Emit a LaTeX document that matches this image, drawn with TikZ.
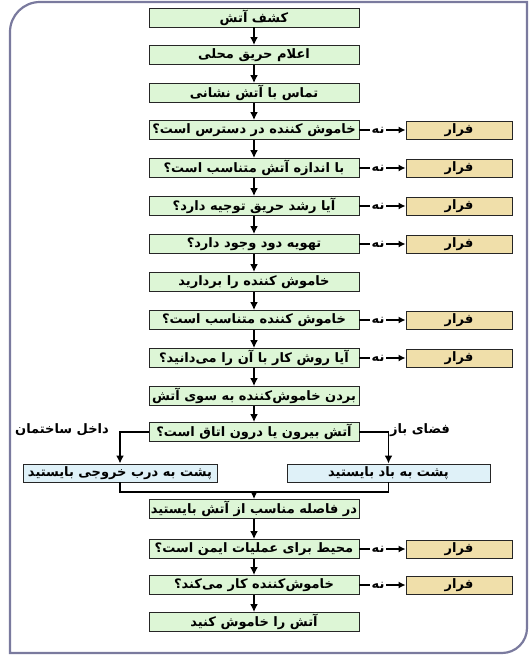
\documentclass[tikz,border=0pt]{standalone}
\usepackage{xcolor}
\usepackage{fontspec}
\usepackage{tikz}
\usetikzlibrary{arrows}
\usetikzlibrary{arrows.meta}
\usetikzlibrary{positioning}
\TeXXeTstate=1
\newfontfamily\arabicfont[Script=Arabic]{DejaVu Sans}
\newcommand{\fatext}[1]{\beginR #1\endR}
\newcommand{\boxfont}{\arabicfont\bfseries\fontsize{13}{14}\selectfont}
\definecolor{boxgreen}{HTML}{DDF6D6}
\definecolor{boxblue}{HTML}{DFF1F8}
\definecolor{boxtan}{HTML}{F0DFAA}
\definecolor{framegray}{HTML}{7A7A9E}
\tikzset{>=latex}
\tikzstyle{mainbox} = [draw=black!85, fill=boxgreen, line width=0.9pt, minimum width=210pt, minimum height=19pt, inner sep=0pt, font=\boxfont]
\tikzstyle{sidebox} = [mainbox, fill=boxblue, minimum height=18pt]
\tikzstyle{escbox} = [mainbox, fill=boxtan, minimum width=106pt, minimum height=18pt]
\tikzstyle{nolbl} = [draw=none, inner sep=1.5pt, font=\boxfont]
\tikzstyle{flow} = [-{Latex[length=8pt, width=8pt]}, line width=1.7pt]
\tikzstyle{noline} = [line width=1.3pt]
\tikzstyle{notip} = [noline, -{Latex[length=7pt, width=7pt]}]

\begin{document}
\begin{tikzpicture}[x=1pt, y=-1pt]
\useasboundingbox (0,0) rectangle (528,655);
% outer frame
\draw [framegray, line width=2.2pt] (10,653) -- (10,32) .. controls (10,15.4) and (23.4,2) .. (40,2) -- (527,2) -- (527,628) .. controls (527,641.8) and (515.8,653) .. (502,653) -- cycle;

\node [mainbox] (detect) at (254, 17.5) {\fatext{کشف آتش}};
\node [mainbox] (alarm) at (254, 55) {\fatext{اعلام حریق محلی}};
\node [mainbox] (call) at (254, 93) {\fatext{تماس با آتش نشانی}};
\node [mainbox] (avail) at (254, 130) {\fatext{خاموش کننده در دسترس است؟}};
\node [mainbox] (size) at (254, 168) {\fatext{با اندازه آتش متناسب است؟}};
\node [mainbox] (growth) at (254, 206) {\fatext{آیا رشد حریق توجیه دارد؟}};
\node [mainbox] (smoke) at (254, 244) {\fatext{تهویه دود وجود دارد؟}};
\node [mainbox] (take) at (254, 282) {\fatext{خاموش کننده را بردارید}};
\node [mainbox] (suit) at (254, 320) {\fatext{خاموش کننده متناسب است؟}};
\node [mainbox] (method) at (254, 358) {\fatext{آیا روش کار با آن را می‌دانید؟}};
\node [mainbox] (carry) at (254, 396) {\fatext{بردن خاموش‌کننده به سوی آتش}};
\node [mainbox] (place) at (254, 432) {\fatext{آتش بیرون یا درون اتاق است؟}};
\node [sidebox, minimum width=194pt] (inside) at (120, 473) {\fatext{پشت به درب خروجی بایستید}};
\node [sidebox, minimum width=203pt] (outside) at (388.5, 473) {\fatext{پشت به باد بایستید}};
\node [mainbox] (dist) at (254, 509) {\fatext{در فاصله مناسب از آتش بایستید}};
\node [mainbox] (safe) at (254, 549) {\fatext{محیط برای عملیات ایمن است؟}};
\node [mainbox] (works) at (254, 585) {\fatext{خاموش‌کننده کار می‌کند؟}};
\node [mainbox] (putout) at (254, 622) {\fatext{آتش را خاموش کنید}};

\node [nolbl] (inlbl) at (62, 430) {\fatext{داخل ساختمان}};
\node [nolbl] (outlbl) at (420, 430) {\fatext{فضای باز}};
\coordinate (merge) at (254, 492);

\draw [flow] (detect) -- (alarm);
\draw [flow] (alarm) -- (call);
\draw [flow] (call) -- (avail);
\draw [flow] (avail) -- (size);
\draw [flow] (size) -- (growth);
\draw [flow] (growth) -- (smoke);
\draw [flow] (smoke) -- (take);
\draw [flow] (take) -- (suit);
\draw [flow] (suit) -- (method);
\draw [flow] (method) -- (carry);
\draw [flow] (carry) -- (place);
\draw [flow] (place.west) -| (inside.north);
\draw [flow] (place.east) -| (outside.north);
\draw [line width=1.7pt] (inside.south) |- (merge) -| (outside.south);
\draw [flow] (merge) -- (dist);
\draw [flow] (dist) -- (safe);
\draw [flow] (safe) -- (works);
\draw [flow] (works) -- (putout);

% escape branches
\node [nolbl] (no1) at (378, 130) {\fatext{نه}};
\node [escbox] (esc1) at (459, 130) {\fatext{فرار}};
\node [nolbl] (no2) at (378, 168) {\fatext{نه}};
\node [escbox] (esc2) at (459, 168) {\fatext{فرار}};
\node [nolbl] (no3) at (378, 206) {\fatext{نه}};
\node [escbox] (esc3) at (459, 206) {\fatext{فرار}};
\node [nolbl] (no4) at (378, 244) {\fatext{نه}};
\node [escbox] (esc4) at (459, 244) {\fatext{فرار}};
\node [nolbl] (no5) at (378, 320) {\fatext{نه}};
\node [escbox] (esc5) at (459, 320) {\fatext{فرار}};
\node [nolbl] (no6) at (378, 358) {\fatext{نه}};
\node [escbox] (esc6) at (459, 358) {\fatext{فرار}};
\node [nolbl] (no7) at (378, 549) {\fatext{نه}};
\node [escbox] (esc7) at (459, 549) {\fatext{فرار}};
\node [nolbl] (no8) at (378, 585) {\fatext{نه}};
\node [escbox] (esc8) at (459, 585) {\fatext{فرار}};
\draw [noline] (avail) -- (no1);
\draw [notip] (no1) -- (esc1);
\draw [noline] (size) -- (no2);
\draw [notip] (no2) -- (esc2);
\draw [noline] (growth) -- (no3);
\draw [notip] (no3) -- (esc3);
\draw [noline] (smoke) -- (no4);
\draw [notip] (no4) -- (esc4);
\draw [noline] (suit) -- (no5);
\draw [notip] (no5) -- (esc5);
\draw [noline] (method) -- (no6);
\draw [notip] (no6) -- (esc6);
\draw [noline] (safe) -- (no7);
\draw [notip] (no7) -- (esc7);
\draw [noline] (works) -- (no8);
\draw [notip] (no8) -- (esc8);
\end{tikzpicture}
\end{document}
